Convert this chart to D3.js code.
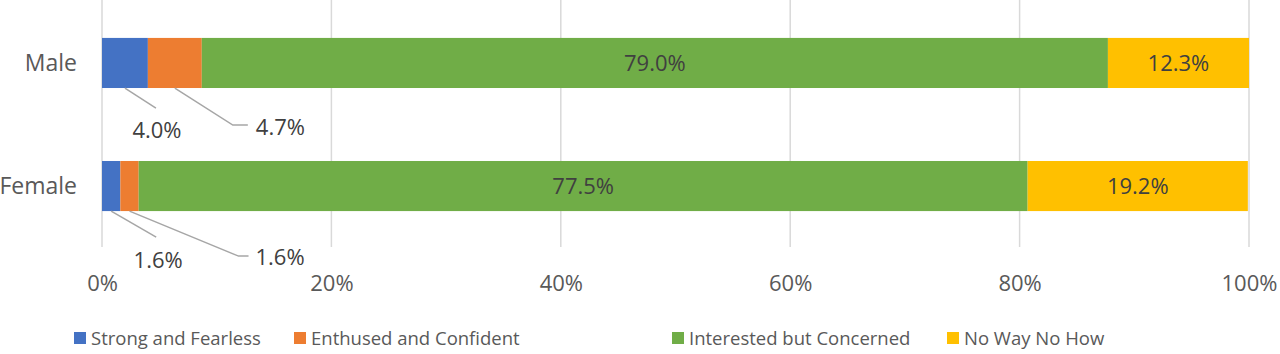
<!DOCTYPE html>
<html>
<head>
<meta charset="utf-8">
<script src="https://cdn.jsdelivr.net/npm/d3@7"></script>
<style>
  body { margin: 0; background: #fff; }
  svg { display: block; font-family: "Open Sans", sans-serif; }
</style>
</head>
<body>
<svg id="chart" width="1280" height="354"></svg>
<script>
// data
const categories = ["Male", "Female"];
const seriesNames = ["Strong and Fearless", "Enthused and Confident", "Interested but Concerned", "No Way No How"];
const maleValues = [4.0, 4.7, 79.0, 12.3];
const femaleValues = [1.6, 1.6, 77.5, 19.2];
const tickValues = [0, 20, 40, 60, 80, 100];
const colors = ["#4472C4", "#ED7D31", "#70AD47", "#FFC000"];

const svg = d3.select("#chart"),
    width = +svg.attr("width"),
    height = +svg.attr("height");

const x = d3.scaleLinear().domain([0, 100]).range([102, 1249]);
const y = d3.scaleBand().domain(categories).range([1, 248])
    .paddingInner(0.593).paddingOuter(0.3);

// rows -> stacked segments
const rows = categories.map((c, i) => {
    const vals = i === 0 ? maleValues : femaleValues;
    let acc = 0;
    return vals.map((v, k) => {
        const seg = { cat: c, series: k, value: v, x0: acc, x1: acc + v };
        acc += v;
        return seg;
    });
});

// gridlines
svg.append("g")
    .selectAll("line")
    .data(tickValues)
    .join("line")
    .attr("x1", d => x(d)).attr("x2", d => x(d))
    .attr("y1", 0).attr("y2", 247)
    .attr("stroke", "#D9D9D9")
    .attr("stroke-width", 1.5);

// bars
svg.append("g")
    .selectAll("rect")
    .data(rows.flat())
    .join("rect")
    .attr("x", d => x(d.x0))
    .attr("y", d => y(d.cat))
    .attr("width", d => x(d.x1) - x(d.x0))
    .attr("height", y.bandwidth())
    .attr("fill", d => colors[d.series]);

// inside labels (big segments)
svg.append("g")
    .selectAll("text")
    .data(rows.flat().filter(d => d.series >= 2))
    .join("text")
    .attr("x", d => (x(d.x0) + x(d.x1)) / 2)
    .attr("y", d => y(d.cat) + y.bandwidth() / 2)
    .attr("dy", "0.36em")
    .attr("text-anchor", "middle")
    .attr("font-size", 22)
    .attr("fill", "#404040")
    .text(d => d.value.toFixed(1) + "%");

// callout labels for small segments: [dx end, dy end, elbow length, text dx, text dy, anchor]
const callouts = [
    [31, 20, 0, 32, 42, "middle"],
    [58, 37, 15, 81, 39, "start"],
    [45, 26, 0, 47, 49, "middle"],
    [109, 45, 10, 126, 46, "start"]
];
const small = rows.flat().filter(d => d.series < 2);
const cg = svg.append("g");
small.forEach((d, i) => {
    const c = callouts[i];
    const ax = (x(d.x0) + x(d.x1)) / 2, ay = y(d.cat) + y.bandwidth();
    const pts = [[ax, ay], [ax + c[0], ay + c[1]]];
    if (c[2]) pts.push([ax + c[0] + c[2], ay + c[1]]);
    cg.append("path")
        .attr("d", d3.line()(pts))
        .attr("fill", "none")
        .attr("stroke", "#A6A6A6")
        .attr("stroke-width", 1.5);
    cg.append("text")
        .attr("x", ax + c[3])
        .attr("y", ay + c[4])
        .attr("dy", "0.36em")
        .attr("text-anchor", c[5])
        .attr("font-size", 22)
        .attr("fill", "#404040")
        .text(d.value.toFixed(1) + "%");
});

// category labels
svg.append("g")
    .selectAll("text")
    .data(categories)
    .join("text")
    .attr("x", 77)
    .attr("y", d => y(d) + y.bandwidth() / 2)
    .attr("dy", "0.36em")
    .attr("text-anchor", "end")
    .attr("font-size", 23)
    .attr("fill", "#595959")
    .text(d => d);

// x axis tick labels
const xAxis = svg.append("g")
    .attr("transform", "translate(0,270)")
    .call(d3.axisBottom(x).tickValues(tickValues).tickFormat(d => d + "%").tickSize(0).tickPadding(0));
xAxis.select(".domain").remove();
xAxis.selectAll("text")
    .attr("font-family", "Open Sans")
    .attr("font-size", 22)
    .attr("fill", "#595959")
    .attr("dy", "0.95em");

// legend
const legendX = [74, 294, 672, 947];
const legend = svg.append("g").attr("transform", "translate(0,338)");
seriesNames.forEach((name, i) => {
    const g = legend.append("g").attr("transform", `translate(${legendX[i]},0)`);
    g.append("rect")
        .attr("x", 0).attr("y", -6)
        .attr("width", 12).attr("height", 12)
        .attr("fill", colors[i]);
    g.append("text")
        .attr("x", 17)
        .attr("y", 0)
        .attr("dy", "0.36em")
        .attr("font-size", 18.5)
        .attr("fill", "#595959")
        .text(name);
});
</script>
</body>
</html>
